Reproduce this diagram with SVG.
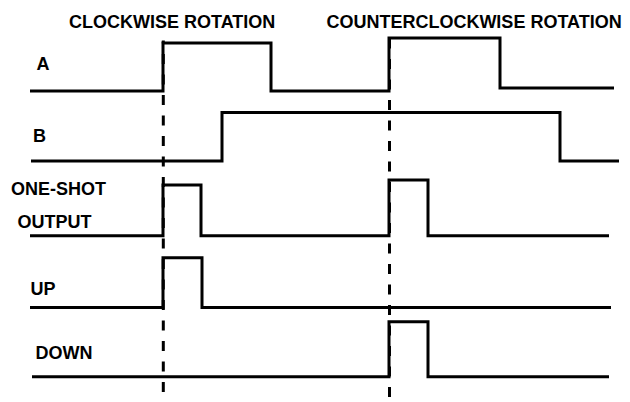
<svg xmlns="http://www.w3.org/2000/svg" width="630" height="402" viewBox="0 0 630 402">
  <style>
    .lbl { font-family: "Liberation Sans", Arial, sans-serif; font-weight: bold; font-size: 18px; fill: #000; }
    .sig { fill: none; stroke: #000; stroke-width: 3; stroke-linejoin: miter; stroke-linecap: butt; }
    .ref { fill: none; stroke: #000; stroke-width: 3; stroke-dasharray: 10 10.5; }
  </style>
  <rect width="630" height="402" fill="#fff"/>

  <!-- direction headings -->
  <g id="headings">
    <text class="lbl" x="69" y="28">CLOCKWISE ROTATION</text>
    <text class="lbl" x="326.4" y="28">COUNTERCLOCKWISE ROTATION</text>
  </g>

  <!-- encoder channel A -->
  <g id="sig-a">
    <text class="lbl" x="36.5" y="70">A</text>
    <path class="sig" d="M30,91 H163 V43 H271 V91 H389 V38 H500 V88 H614"/>
  </g>

  <!-- encoder channel B -->
  <g id="sig-b">
    <text class="lbl" x="33" y="141.7">B</text>
    <path class="sig" d="M31,161 H222 V112.5 H560 V161 H619"/>
  </g>

  <!-- one-shot output -->
  <g id="sig-oneshot">
    <text class="lbl" x="11" y="195">ONE-SHOT</text>
    <text class="lbl" x="17.5" y="228.3">OUTPUT</text>
    <path class="sig" d="M30,235.7 H163 V185 H201 V235.7 H389 V180 H428 V235.7 H609"/>
  </g>

  <!-- up count -->
  <g id="sig-up">
    <text class="lbl" x="30.4" y="295">UP</text>
    <path class="sig" d="M30,307.5 H163 V257.7 H202 V307.5 H611"/>
  </g>

  <!-- down count -->
  <g id="sig-down">
    <text class="lbl" x="35.4" y="359.3">DOWN</text>
    <path class="sig" d="M32,376.7 H389 V321.7 H428 V376.7 H609"/>
  </g>

  <!-- dashed reference lines at the A rising edges -->
  <g id="connectors">
    <line class="ref" x1="163.3" y1="40.5" x2="163.3" y2="402" stroke-dashoffset="7.1"/>
    <line class="ref" x1="389.5" y1="36" x2="389.5" y2="402" stroke-dashoffset="-2.5"/>
  </g>
</svg>
